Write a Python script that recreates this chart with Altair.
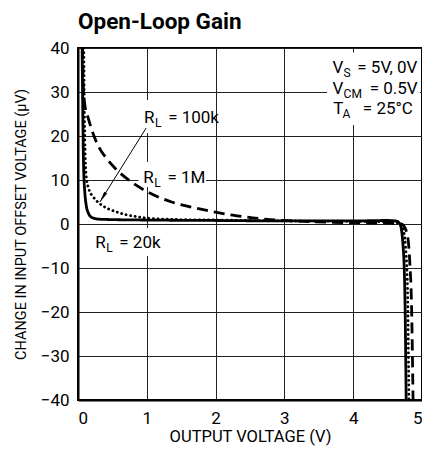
import altair as alt
import pandas as pd

# ---- data ----
x_20k = [0.06, 0.07, 0.08, 0.10, 0.12, 0.15, 0.20, 0.30, 0.50, 1.0, 2.0, 3.0, 4.0, 4.5, 4.62, 4.68, 4.72, 4.75, 4.77]
y_20k = [40, 25, 14, 7.0, 4.2, 2.5, 1.5, 1.1, 1.0, 0.9, 0.8, 0.7, 0.7, 0.8, 0.7, 0.0, -4, -15, -40]

x_100k = [0.085, 0.09, 0.10, 0.12, 0.16, 0.22, 0.31, 0.42, 0.55, 0.70, 0.84, 1.03, 1.5, 2.0, 3.0, 4.0, 4.5, 4.65, 4.72, 4.76, 4.79, 4.81]
y_100k = [40, 30, 19, 10.8, 7.8, 6.2, 4.7, 3.6, 2.8, 2.1, 1.7, 1.3, 1.0, 0.9, 0.7, 0.6, 0.5, 0.3, -1, -5, -15, -40]

x_1m = [0.065, 0.075, 0.10, 0.15, 0.22, 0.31, 0.42, 0.55, 0.78, 1.05, 1.36, 1.75, 2.25, 2.8, 3.3, 4.0, 4.5, 4.7, 4.78, 4.82, 4.85, 4.87]
y_1m = [40, 32, 27, 24, 20.5, 17.3, 14.8, 12.5, 9.5, 7.0, 5.0, 3.5, 2.0, 1.0, 0.6, 0.3, 0.2, 0.0, -2, -8, -20, -40]

series_names = ["RL = 20k", "RL = 100k", "RL = 1M"]

x_ticks = [0, 1, 2, 3, 4, 5]
y_ticks = [-40, -30, -20, -10, 0, 10, 20, 30, 40]

# annotation texts (main text, subscript, remainder)
label_text = ["R", "L", "= 100k", "R", "L", "= 1M", "R", "L", "= 20k",
              "V", "S", "= 5V, 0V", "V", "CM", "= 0.5V", "T", "A", "= 25°C"]
label_x = [0.96, 1.12, 1.31, 0.95, 1.11, 1.30, 0.25, 0.41, 0.60,
           3.70, 3.86, 4.06, 3.70, 3.86, 4.24, 3.71, 3.845, 4.14]
label_y = [22.9, 22.0, 22.9, 9.25, 8.35, 9.25, -5.5, -6.4, -5.5,
           34.3, 33.4, 34.3, 29.5, 28.6, 29.5, 25.0, 24.1, 25.0]
label_size = [17, 12, 17, 17, 12, 17, 17, 12, 17,
              17, 12, 17, 17, 12, 17, 17, 12, 17]

# white boxes behind labels (break the grid)
box_x = [0.88, 0.88, 0.14, 3.62]
box_x2 = [2.0, 1.86, 1.33, 4.97]
box_y = [28.2, 14.1, -0.9, 39.0]
box_y2 = [20.7, 8.4, -7.3, 22.5]

# arrow from the "RL = 100k" label to its curve
arrow_x, arrow_y = [0.99], [21.8]
arrow_x2, arrow_y2 = [0.318], [5.0]

FONT = "Roboto"

rows = []
for name, xs, ys in zip(series_names, [x_20k, x_100k, x_1m], [y_20k, y_100k, y_1m]):
    for i, (a, b) in enumerate(zip(xs, ys)):
        rows.append({"series": name, "x": a, "y": b, "order": i})
df = pd.DataFrame(rows)

xscale = alt.Scale(domain=[0, 5], nice=False, zero=False)
yscale = alt.Scale(domain=[-40, 40], nice=False, zero=False)

xaxis = alt.Axis(values=x_ticks, title="OUTPUT VOLTAGE (V)", grid=True, ticks=False,
                 labelPadding=10, titlePadding=2, format="d", titleFontSize=16.5)
yaxis = alt.Axis(values=y_ticks, title="CHANGE IN INPUT OFFSET VOLTAGE (µV)", grid=True,
                 ticks=False, labelPadding=9, titlePadding=12, format="d", titleFontSize=14.5)

base_x = alt.X("x:Q", scale=xscale, axis=xaxis)
base_y = alt.Y("y:Q", scale=yscale, axis=yaxis)

boxes = alt.Chart(pd.DataFrame({"x": box_x, "x2": box_x2, "y": box_y, "y2": box_y2})).mark_rect(
    fill="white"
).encode(x=base_x, x2="x2:Q", y=base_y, y2="y2:Q")


def line_layer(name, dash, cap):
    return alt.Chart(df[df.series == name]).mark_line(
        color="black", strokeWidth=2.8, strokeDash=dash, clip=True,
        interpolate="monotone", strokeCap=cap
    ).encode(x=alt.X("x:Q", scale=xscale), y=alt.Y("y:Q", scale=yscale), order="order:Q")


l20 = line_layer("RL = 20k", [1, 0], "butt")
l100 = line_layer("RL = 100k", [0.1, 4.5], "round")
l1m = line_layer("RL = 1M", [11, 6], "butt")

arrow_line = alt.Chart(pd.DataFrame({"x": arrow_x, "y": arrow_y, "x2": arrow_x2, "y2": arrow_y2})).mark_rule(
    color="black", strokeWidth=1
).encode(x=alt.X("x:Q", scale=xscale), y=alt.Y("y:Q", scale=yscale), x2="x2:Q", y2="y2:Q")

arrow_head = alt.Chart(pd.DataFrame({"x": arrow_x2, "y": arrow_y2})).mark_point(
    shape="M0,0L0.32,2L-0.32,2Z", filled=True, fill="black", size=121, angle=212, opacity=1
).encode(x=alt.X("x:Q", scale=xscale), y=alt.Y("y:Q", scale=yscale))

labels = alt.Chart(pd.DataFrame({"x": label_x, "y": label_y, "t": label_text, "s": label_size})).mark_text(
    align="left", baseline="alphabetic", font=FONT, color="black"
).encode(x=alt.X("x:Q", scale=xscale), y=alt.Y("y:Q", scale=yscale), text="t:N",
         size=alt.Size("s:Q", scale=None, legend=None))

chart = alt.layer(boxes, l1m, l100, l20, arrow_line, arrow_head, labels).properties(
    width=344, height=352,
    autosize=alt.AutoSizeParams(type="none"),
    padding={"left": 70, "top": 40, "right": 0, "bottom": 47},
    title=alt.TitleParams("Open-Loop Gain", anchor="start", frame="group", font=FONT,
                          fontSize=22.5, fontWeight="bold", color="black", offset=6),
).configure_view(stroke="black", strokeWidth=2).configure_axis(
    labelFont=FONT, labelFontSize=17, labelColor="black",
    titleFont=FONT, titleFontWeight="normal", titleColor="black",
    gridColor="#222222", gridWidth=1, gridOpacity=1,
    domainColor="black", domainWidth=2,
)

chart.save("out.html", embed_options={"renderer": "svg", "actions": False})
